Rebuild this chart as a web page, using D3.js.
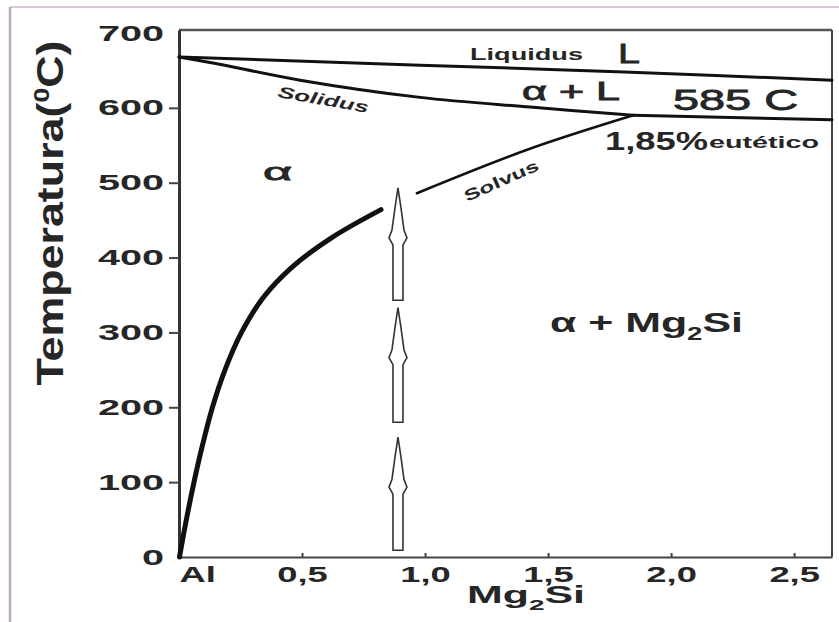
<!DOCTYPE html>
<html>
<head>
<meta charset="utf-8">
<script src="https://cdn.jsdelivr.net/npm/d3@7/dist/d3.min.js"></script>
<style>
  body { margin: 0; background: #fff; }
  text { font-family: "Liberation Sans", Arial, sans-serif; fill: #262626; }
</style>
</head>
<body>
<div id="container"></div>
<script>
// ---- data (x = % Mg2Si, y = temperature in C) ----
let xTicks = [0, 0.5, 1.0, 1.5, 2.0, 2.5];
let xTickLabels = ["Al", "0,5", "1,0", "1,5", "2,0", "2,5"];
let yTicks = [0, 100, 200, 300, 400, 500, 600, 700];

let liquidusX = [0, 0.98, 1.81, 2.654];
let liquidusT = [668, 657, 648, 637];

let solidusX = [0, 0.138, 0.492, 0.98, 1.427, 1.846];
let solidusT = [668, 660, 637, 614, 601, 590];

let eutecticX = [1.846, 2.654];
let eutecticT = [590, 584];

let solvusLowX = [0.002, 0.030, 0.061, 0.096, 0.136, 0.187, 0.254, 0.341, 0.455, 0.618, 0.821];
let solvusLowT = [0, 50, 100, 150, 200, 250, 300, 346, 386, 426, 464];

let solvusHighX = [0.967, 1.415, 1.846];
let solvusHighT = [486, 544, 590];

let arrowX = 0.89;
let arrowTip = [493, 333, 160];
let arrowTail = [343, 180, 9];

let width = 839, height = 622;
let svg = d3.select('#container').append("svg")
    .attr("width", width)
    .attr("height", height);

// outer frame
svg.append("line").attr("x1", 10).attr("y1", 7).attr("x2", width).attr("y2", 7)
    .attr("stroke", "#dcc6dc").attr("stroke-width", 2);
svg.append("line").attr("x1", 10).attr("y1", 7).attr("x2", 10).attr("y2", height)
    .attr("stroke", "#bea6be").attr("stroke-width", 2.5);

let xScale = d3.scaleLinear().domain([0, 2.654]).range([179, 832]);
let yScale = d3.scaleLinear().domain([0, 704]).range([557, 30]);

// stretch text to the wide look of the original
function widen(sel, f) {
  sel.each(function() {
    let w = this.getComputedTextLength();
    d3.select(this).attr("textLength", w * f).attr("lengthAdjust", "spacingAndGlyphs");
  });
}

// plot box
svg.append("line").attr("x1", xScale(0)).attr("x2", xScale(2.654)).attr("y1", yScale(704)).attr("y2", yScale(704))
    .attr("stroke", "#555").attr("stroke-width", 2.5);
svg.append("line").attr("x1", xScale(2.654)).attr("x2", xScale(2.654)).attr("y1", yScale(704)).attr("y2", yScale(0))
    .attr("stroke", "#444").attr("stroke-width", 2);

let xAxis = d3.axisBottom(xScale)
    .tickValues(xTicks)
    .tickFormat(function(d, i) { return xTickLabels[i]; })
    .tickSize(-4)
    .tickSizeOuter(0)
    .tickPadding(9);

let xg = svg.append("g")
    .attr("transform", "translate(0," + yScale(0) + ")")
    .call(xAxis);
xg.select(".domain").attr("stroke", "#444").attr("stroke-width", 2);
xg.selectAll(".tick line").attr("stroke", "#444").attr("stroke-width", 2)
    .attr("opacity", function(d) { return d === 0 ? 0 : 1; });
xg.selectAll("text")
    .attr("font-size", 22).attr("font-weight", "bold").attr("fill", "#262626")
    .attr("font-family", "Liberation Sans, Arial, sans-serif")
    .style("text-anchor", function(d) { return d === 0 ? "start" : "middle"; })
    .call(widen, 1.65);

let yAxis = d3.axisLeft(yScale)
    .tickValues(yTicks)
    .tickSize(10)
    .tickSizeOuter(0)
    .tickPadding(5);

let yg = svg.append("g")
    .attr("transform", "translate(" + xScale(0) + ",0)")
    .call(yAxis);
yg.select(".domain").attr("stroke", "#333").attr("stroke-width", 3);
yg.selectAll(".tick line").attr("stroke", "#444").attr("stroke-width", 2)
    .attr("opacity", function(d) { return d === 0 || d === 700 ? 0 : 1; });
yg.selectAll("text")
    .attr("font-size", 22).attr("font-weight", "bold").attr("fill", "#262626")
    .attr("font-family", "Liberation Sans, Arial, sans-serif")
    .call(widen, 1.8);

// axis titles
let xt = svg.append("text")
    .attr("x", 526).attr("y", 603)
    .attr("text-anchor", "middle")
    .attr("font-size", 23).attr("font-weight", "bold");
xt.append("tspan").text("Mg");
xt.append("tspan").attr("font-size", 15).attr("dy", 7).text("2");
xt.append("tspan").attr("dy", -7).text("Si");
xt.attr("textLength", 118).attr("lengthAdjust", "spacingAndGlyphs");

let yt = svg.append("text")
    .attr("transform", "translate(63,213) rotate(-90)")
    .attr("text-anchor", "middle")
    .attr("font-size", 37).attr("font-weight", "bold");
yt.append("tspan").text("Temperatura(");
yt.append("tspan").attr("font-size", 22).attr("dy", -14).text("0");
yt.append("tspan").attr("dy", 14).text("C)");
yt.attr("textLength", 345).attr("lengthAdjust", "spacingAndGlyphs");

// phase boundaries
function zip(xs, ts) { return xs.map(function(x, i) { return [x, ts[i]]; }); }
let line = d3.line()
    .x(function(d) { return xScale(d[0]); })
    .y(function(d) { return yScale(d[1]); })
    .curve(d3.curveCatmullRom.alpha(0.5));

let curves = [
  {pts: zip(liquidusX, liquidusT), w: 3},
  {pts: zip(solidusX, solidusT), w: 3},
  {pts: zip(eutecticX, eutecticT), w: 3},
  {pts: zip(solvusHighX, solvusHighT), w: 2.6},
  {pts: zip(solvusLowX, solvusLowT), w: 5}
];
svg.selectAll(".curve").data(curves)
    .enter().append("path")
    .attr("class", "curve")
    .attr("d", function(d) { return line(d.pts); })
    .attr("fill", "none")
    .attr("stroke", "#111")
    .attr("stroke-width", function(d) { return d.w; })
    .attr("stroke-linecap", "round")
    .attr("stroke-linejoin", "round");

// hollow arrows
let arrows = arrowTip.map(function(t, i) { return {tip: t, tail: arrowTail[i]}; });
svg.selectAll(".arrow").data(arrows)
    .enter().append("path")
    .attr("class", "arrow")
    .attr("d", function(d) {
      let cx = xScale(arrowX), ty = yScale(d.tip), by = yScale(d.tail);
      let pts = [[0, 0], [-3, 20], [-6, 42], [-9, 50], [-5, 57], [-5, by - ty],
                 [5, by - ty], [5, 57], [9, 50], [6, 42], [3, 20]];
      return "M" + pts.map(function(p) { return (cx + p[0]) + "," + (ty + p[1]); }).join("L") + "Z";
    })
    .attr("fill", "#fff")
    .attr("stroke", "#333")
    .attr("stroke-width", 1.6);

// region and curve labels
function label(x, y, str, size, w, opts) {
  opts = opts || {};
  let t = svg.append("text")
      .attr("x", x).attr("y", y)
      .attr("font-size", size)
      .attr("font-weight", opts.weight || "bold")
      .attr("font-style", opts.style || "normal")
      .attr("fill", opts.fill || "#262626")
      .text(str)
      .attr("textLength", w).attr("lengthAdjust", "spacingAndGlyphs");
  if (opts.thick) t.attr("stroke", opts.fill || "#262626").attr("stroke-width", opts.thick);
  if (opts.rot) t.attr("transform", "rotate(" + opts.rot + "," + x + "," + y + ")");
  return t;
}

label(470, 60, "Liquidus", 16, 113, {fill: "#333"});
label(618, 63, "L", 28, 22, {weight: "normal", thick: 0.8});
label(522, 100, "\u03b1 + L", 25, 98, {weight: "normal", thick: 0.8});
label(673, 110, "585  C", 29, 125, {weight: "normal", thick: 0.8});
label(605, 150, "1,85%", 25, 103);
label(709, 148, "eutético", 16, 110);
label(277, 97, "Solidus", 16, 92, {style: "italic", rot: 10, fill: "#444"});
label(467, 202, "Solvus", 16, 80, {rot: -24, fill: "#444"});
label(263, 180, "\u03b1", 24, 29, {weight: "normal", thick: 0.8});

let am = svg.append("text")
    .attr("x", 550).attr("y", 332)
    .attr("font-size", 28).attr("font-weight", "bold");
am.append("tspan").text("\u03b1 + Mg");
am.append("tspan").attr("font-size", 18).attr("dy", 8).text("2");
am.append("tspan").attr("dy", -8).text("Si");
am.attr("textLength", 193).attr("lengthAdjust", "spacingAndGlyphs");
</script>
</body>
</html>
